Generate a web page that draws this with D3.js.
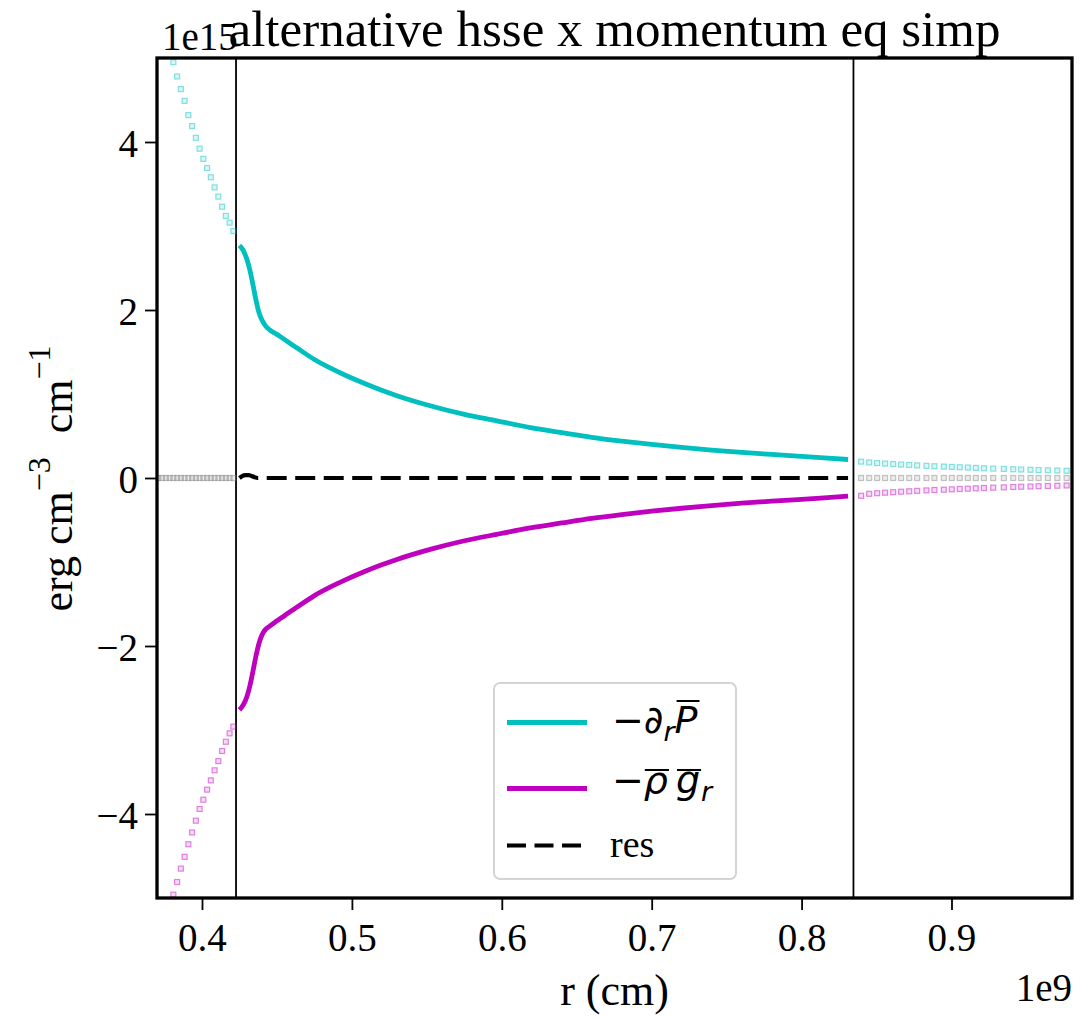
<!DOCTYPE html>
<html><head><meta charset="utf-8">
<script src="https://cdn.jsdelivr.net/npm/d3@7"></script>
<style>body{margin:0;background:#fff} svg{display:block}</style>
</head><body><svg id="c" width="1090" height="1017"></svg>
<script>
// ---------------- data ----------------
const xTicks = [0.4, 0.5, 0.6, 0.7, 0.8, 0.9];
const xTickLabels = ["0.4", "0.5", "0.6", "0.7", "0.8", "0.9"];
const yTicks = [-4, -2, 0, 2, 4];
const yTickLabels = ["\u22124", "\u22122", "0", "2", "4"];
const boundaries = [0.4227, 0.8346];

// inner region (solid lines), r in 1e9 cm, values in 1e15
const rInner = [0.4250, 0.4275, 0.4300, 0.4320, 0.4340, 0.4360, 0.4380, 0.4400, 0.4420, 0.4454,
  0.4500, 0.4565, 0.4632, 0.4750, 0.4854, 0.4960, 0.5077, 0.5190, 0.5300, 0.5522,
  0.5744, 0.5967, 0.6190, 0.6400, 0.6600, 0.6800, 0.7000, 0.7200, 0.7400, 0.7600,
  0.7800, 0.8000, 0.8150, 0.8310];
const dPdrInner = [2.77, 2.71, 2.60, 2.47, 2.30, 2.12, 1.97, 1.88, 1.82, 1.76,
  1.71, 1.63, 1.55, 1.41, 1.31, 1.22, 1.13, 1.05, 0.98, 0.86,
  0.76, 0.68, 0.60, 0.54, 0.485, 0.44, 0.40, 0.365, 0.333, 0.305,
  0.280, 0.258, 0.240, 0.220];
const rhoGInner = [-2.76, -2.70, -2.60, -2.47, -2.30, -2.12, -1.97, -1.87, -1.81, -1.76,
  -1.70, -1.62, -1.54, -1.40, -1.30, -1.21, -1.12, -1.04, -0.97, -0.85,
  -0.75, -0.67, -0.595, -0.535, -0.48, -0.435, -0.395, -0.36, -0.328, -0.300,
  -0.276, -0.254, -0.236, -0.216];
const rRes = [0.4250, 0.4270, 0.4290, 0.4310, 0.4330, 0.4350, 0.4370, 0.4400, 0.5000, 0.6000, 0.7000, 0.8000, 0.8310];
const resInner = [0.0, 0.025, 0.035, 0.035, 0.025, 0.01, 0.0, 0.0, 0.0, 0.0, 0.0, 0.0, 0.0];

// outside region, left (dotted markers)
const rLeft = [0.3709, 0.3734, 0.3759, 0.3784, 0.3809, 0.3834, 0.3859, 0.3884, 0.3909, 0.3934,
  0.3959, 0.3984, 0.4009, 0.4034, 0.4059, 0.4084, 0.4109, 0.4134, 0.4159, 0.4184, 0.4209];
const dPdrLeft = [5.68, 5.47, 5.29, 5.12, 4.95, 4.78, 4.63, 4.49, 4.32, 4.19,
  4.05, 3.92, 3.80, 3.69, 3.58, 3.46, 3.35, 3.23, 3.12, 3.04, 2.94];
const rhoGLeft = [-5.68, -5.47, -5.29, -5.12, -4.96, -4.81, -4.65, -4.51, -4.36, -4.22,
  -4.08, -3.94, -3.83, -3.71, -3.60, -3.48, -3.37, -3.25, -3.14, -3.04, -2.96];
const resLeft = [0, 0, 0, 0, 0, 0, 0, 0, 0, 0, 0, 0, 0, 0, 0, 0, 0, 0, 0, 0, 0];

// outside region, right (dotted markers)
const rRight = [0.8397, 0.8451, 0.8504, 0.8557, 0.8611, 0.8664, 0.8718, 0.8771, 0.8833, 0.8886,
  0.8949, 0.9002, 0.9055, 0.9109, 0.9162, 0.9216, 0.9278, 0.9349, 0.9412, 0.9465,
  0.9527, 0.9581, 0.9643, 0.9706, 0.9768];
const dPdrRight = [0.195, 0.185, 0.178, 0.172, 0.166, 0.160, 0.155, 0.150, 0.145, 0.140,
  0.136, 0.132, 0.128, 0.124, 0.120, 0.116, 0.112, 0.108, 0.104, 0.101,
  0.098, 0.095, 0.092, 0.089, 0.086];
const rhoGRight = [-0.212, -0.188, -0.181, -0.175, -0.169, -0.163, -0.158, -0.153, -0.148, -0.143,
  -0.139, -0.135, -0.131, -0.127, -0.123, -0.119, -0.115, -0.111, -0.107, -0.104,
  -0.101, -0.098, -0.095, -0.092, -0.089];
const resRight = [0, 0, 0, 0, 0, 0, 0, 0, 0, 0, 0, 0, 0, 0, 0, 0, 0, 0, 0, 0, 0, 0, 0, 0, 0];

const CYAN = "#00bfbf", MAG = "#bf00bf", GRAY = "#808080";

// ---------------- layout ----------------
const P = {l: 157, r: 1072, t: 58, b: 898};
const svg = d3.select("#c");
const x = d3.scaleLinear().domain([0.36998, 0.98039]).range([P.l, P.r]);
const y = d3.scaleLinear().domain([-5, 5]).range([P.b, P.t]);
const SERIF = "'Liberation Serif', 'Times New Roman', serif";
const MATH = "'DejaVu Sans', sans-serif";

svg.append("defs").append("clipPath").attr("id", "clip")
  .append("rect").attr("x", P.l).attr("y", P.t).attr("width", P.r - P.l).attr("height", P.b - P.t);

const plot = svg.append("g").attr("clip-path", "url(#clip)");

// boundary lines
plot.selectAll("line.vb").data(boundaries).enter().append("line")
  .attr("x1", d => x(d)).attr("x2", d => x(d)).attr("y1", P.t).attr("y2", P.b)
  .attr("stroke", "#000").attr("stroke-width", 1.8);

// dotted marker series
function markers(rs, vs, color) {
  const pts = rs.map((r, i) => [r, vs[i]]);
  plot.append("g").selectAll("rect").data(pts).enter().append("rect")
    .attr("x", d => x(d[0]) - 2.5).attr("y", d => y(d[1]) - 2.5)
    .attr("width", 5).attr("height", 5)
    .attr("fill", color).attr("fill-opacity", 0.15)
    .attr("stroke", color).attr("stroke-opacity", 0.45).attr("stroke-width", 1.2);
}
markers(rLeft, resLeft, GRAY);
markers(rRight, resRight, GRAY);
markers(rLeft, dPdrLeft, CYAN);
markers(rRight, dPdrRight, CYAN);
markers(rLeft, rhoGLeft, MAG);
markers(rRight, rhoGRight, MAG);

// solid lines
const line = d3.line().x(d => x(d[0])).y(d => y(d[1])).curve(d3.curveMonotoneX);
plot.append("path").datum(rInner.map((r, i) => [r, dPdrInner[i]]))
  .attr("d", line).attr("fill", "none").attr("stroke", CYAN).attr("stroke-width", 4.8);
plot.append("path").datum(rInner.map((r, i) => [r, rhoGInner[i]]))
  .attr("d", line).attr("fill", "none").attr("stroke", MAG).attr("stroke-width", 4.8);
plot.append("path").datum(rRes.map((r, i) => [r, resInner[i]]))
  .attr("d", line).attr("fill", "none").attr("stroke", "#000").attr("stroke-width", 4.2)
  .attr("stroke-dasharray", "20,8.5");

// axes
const xAxis = svg.append("g").attr("transform", `translate(0,${P.b})`)
  .call(d3.axisBottom(x).tickValues(xTicks).tickSize(12).tickPadding(13)
    .tickFormat((d, i) => xTickLabels[i]));
const yAxis = svg.append("g").attr("transform", `translate(${P.l},0)`)
  .call(d3.axisLeft(y).tickValues(yTicks).tickSize(12).tickPadding(7)
    .tickFormat((d, i) => yTickLabels[yTicks.indexOf(d)]));
[xAxis, yAxis].forEach(a => {
  a.select(".domain").remove();
  a.selectAll(".tick line").attr("stroke", "#000").attr("stroke-width", 1.8);
  a.selectAll(".tick text").attr("font-family", SERIF).attr("font-size", 39).attr("fill", "#000");
});
yAxis.selectAll(".tick text").attr("dy", "0.36em");

// frame
svg.append("rect").attr("x", P.l).attr("y", P.t).attr("width", P.r - P.l).attr("height", P.b - P.t)
  .attr("fill", "none").attr("stroke", "#000").attr("stroke-width", 3.3);

// texts
svg.append("text").attr("x", 162).attr("y", 50)
  .attr("font-family", SERIF).attr("font-size", 39).text("1e15");
svg.append("text").attr("x", 614.5).attr("y", 46).attr("text-anchor", "middle")
  .attr("font-family", SERIF).attr("font-size", 51).text("alternative hsse x momentum eq simp");
svg.append("text").attr("x", 614.5).attr("y", 1005).attr("text-anchor", "middle")
  .attr("font-family", SERIF).attr("font-size", 44).text("r (cm)");
svg.append("text").attr("x", 1072).attr("y", 1001).attr("text-anchor", "end")
  .attr("font-family", SERIF).attr("font-size", 39).text("1e9");

const yl = svg.append("text").attr("transform", "translate(72,478.5) rotate(-90)")
  .attr("text-anchor", "middle").attr("font-family", SERIF).attr("font-size", 44);
yl.append("tspan").text("erg cm");
yl.append("tspan").attr("dy", -22).attr("font-size", 32).text("\u22123");
yl.append("tspan").attr("dy", 22).attr("dx", 24).text("cm");
yl.append("tspan").attr("dy", -22).attr("font-size", 32).text("\u22121");

// legend
const lg = svg.append("g");
lg.append("rect").attr("x", 494).attr("y", 683).attr("width", 242).attr("height", 196).attr("rx", 6)
  .attr("fill", "#fff").attr("fill-opacity", 0.85).attr("stroke", "#d4d4d4").attr("stroke-width", 2);
const legendItems = [
  {color: CYAN, dash: null, yy: 722.5},
  {color: MAG, dash: null, yy: 788.5},
  {color: "#000", dash: "19,8.5", yy: 845.5}
];
legendItems.forEach(it => {
  lg.append("line").attr("x1", 507).attr("x2", 587).attr("y1", it.yy).attr("y2", it.yy)
    .attr("stroke", it.color).attr("stroke-width", it.dash ? 4.2 : 4.8)
    .attr("stroke-dasharray", it.dash);
});
function mathRow(x0, yb, pieces) {
  let cx = x0;
  pieces.forEach(p => {
    cx += (p.dx || 0);
    const fs = p.sub ? 27 : 38;
    const t = lg.append("text").attr("x", cx).attr("y", yb + (p.sub ? 8 : 0))
      .attr("font-family", MATH).attr("font-size", fs)
      .attr("font-style", p.it ? "italic" : "normal").text(p.t);
    const w = t.node().getComputedTextLength();
    if (p.ov !== undefined) {
      lg.append("line").attr("x1", cx + (p.ox || 0)).attr("x2", cx + w + (p.ox || 0) + (p.ow || 0))
        .attr("y1", yb - p.ov).attr("y2", yb - p.ov).attr("stroke", "#000").attr("stroke-width", 2);
    }
    cx += w;
  });
}
mathRow(612, 733, [
  {t: "\u2212"}, {t: "\u2202", dx: 0}, {t: "r", it: true, sub: true, dx: 0},
  {t: "P", it: true, ov: 32, dx: 0, ox: 2}
]);
mathRow(612, 793, [
  {t: "\u2212"}, {t: "\u03c1", it: true, ov: 23, dx: 0, ox: 1},
  {t: "g", it: true, ov: 23, dx: 8, ox: 1}, {t: "r", it: true, sub: true, dx: 1}
]);
lg.append("text").attr("x", 610).attr("y", 857).attr("font-family", SERIF).attr("font-size", 38).text("res");
</script></body></html>
